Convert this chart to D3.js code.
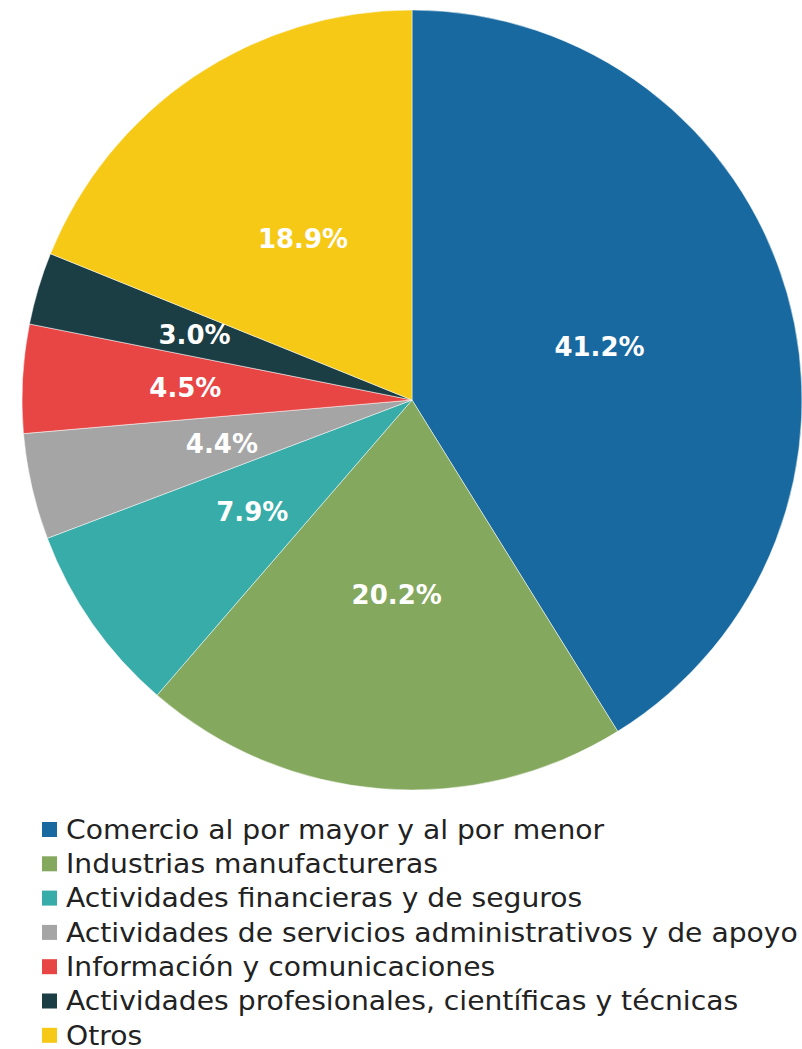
<!DOCTYPE html>
<html>
<head>
<meta charset="utf-8">
<script src="https://cdn.jsdelivr.net/npm/d3@7"></script>
<style>
  body { margin: 0; background: #fff; }
  svg text { font-family: "Century Gothic", "DejaVu Sans", sans-serif; }
</style>
</head>
<body>
<div id="chart"></div>
<script>
const categories = [
    "Comercio al por mayor y al por menor",
    "Industrias manufactureras",
    "Actividades financieras y de seguros",
    "Actividades de servicios administrativos y de apoyo",
    "Información y comunicaciones",
    "Actividades profesionales, científicas y técnicas",
    "Otros"
];
const values = [41.2, 20.2, 7.9, 4.4, 4.5, 3.0, 18.9];
const colors = ["#1769a0", "#84a85e", "#38aca8", "#a5a5a5", "#e84545", "#1b3d44", "#f5c916"];

document.addEventListener("DOMContentLoaded", setup)

function setup(){
    const width = 802;
    const height = 1049;
    const svg = d3.select("#chart").append("svg")
        .attr("width", width)
        .attr("height", height);

    drawPie(svg);
    drawLegend(svg);
}

function drawPie(svg){
    const radius = 390;
    const g = svg.append("g")
        .attr("transform", "translate(412,400)");

    const pie = d3.pie().sort(null).value(d => d.value);
    const arc = d3.arc().innerRadius(0).outerRadius(radius);
    // thin slices get their label pushed a bit further out (like Excel's best fit)
    const outerLabel = d3.arc().innerRadius(227).outerRadius(227);
    const data = values.map((v, i) => ({value: v, name: categories[i], color: colors[i]}));

    const slices = g.selectAll("g.slice")
        .data(pie(data))
        .enter()
        .append("g")
        .attr("class", "slice");

    slices.append("path")
        .attr("d", arc)
        .attr("fill", d => d.data.color)
        .attr("stroke", "#fff")
        .attr("stroke-width", 0.5);

    slices.append("text")
        .attr("transform", (d, i) => {
            const c = (i == 4 || i == 5) ? outerLabel.centroid(d) : arc.centroid(d);
            return "translate(" + c + ")";
        })
        .attr("text-anchor", "middle")
        .attr("dy", "0.36em")
        .attr("fill", "#fff")
        .attr("font-size", 26)
        .attr("font-weight", "bold")
        .text(d => d.data.value.toFixed(1) + "%");
}

function drawLegend(svg){
    const legend = svg.append("g")
        .attr("transform", "translate(42,822)");

    const rowH = 34.3;
    const items = legend.selectAll("g.item")
        .data(categories)
        .enter()
        .append("g")
        .attr("class", "item")
        .attr("transform", (d, i) => "translate(0," + (i * rowH) + ")");

    items.append("rect")
        .attr("width", 15)
        .attr("height", 15)
        .attr("fill", (d, i) => colors[i]);

    items.append("text")
        .attr("transform", "translate(24,7.5) scale(1.085,1)")
        .attr("dy", "0.36em")
        .attr("font-size", 26)
        .attr("fill", "#222")
        .text(d => d);
}
</script>
</body>
</html>
